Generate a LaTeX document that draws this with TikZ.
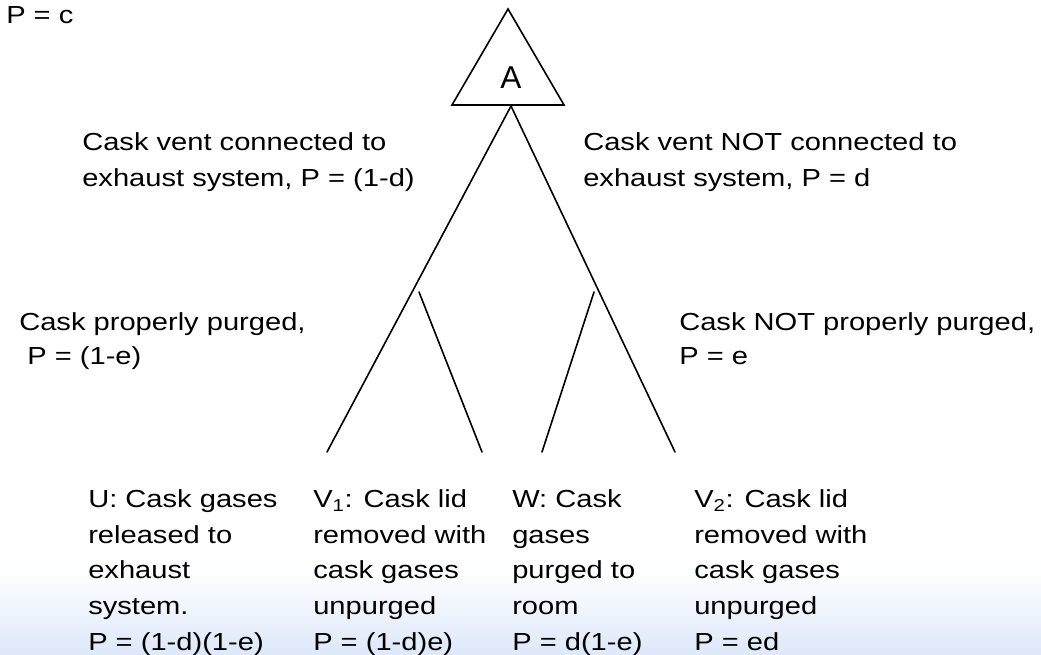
\documentclass[tikz,border=0pt]{standalone}
\usepackage{fontspec}
\setmainfont{Liberation Sans}[FakeStretch=1.18]
\newfontfamily\markfont{Liberation Sans}
\definecolor{fadeblue}{RGB}{222,232,250}
\begin{document}
\begin{tikzpicture}[x=0.75pt,y=-0.75pt,
  lbl/.style={anchor=north west, inner sep=0pt, align=left,
    font=\fontsize{18.5}{27}\selectfont},
  outcome/.style={lbl, font=\fontsize{18.5}{26.7}\selectfont},
  branch/.style={line width=1.2pt, line cap=round}]
\useasboundingbox (0,0) rectangle (1041,655);
% pale band along the bottom edge
\shade[top color=white, bottom color=fadeblue] (0,568) rectangle (1041,655);

% initiating event A
\coordinate (apex) at (508,9);
\coordinate (bl) at (452,105);
\coordinate (br) at (564,105);
\draw[line width=1.2pt, line join=miter] (apex) -- (bl) -- (br) -- cycle;
\node[font=\markfont\fontsize{23.7}{28}\selectfont, inner sep=0pt] (A) at (511,78) {A};
\node[lbl] (pc) at (6,6) {P = c};

% branch points and end points
\coordinate (root) at (511,106);
\coordinate (uend) at (327,452);
\coordinate (vtwoend) at (675,452);
\coordinate (vonetop) at (419,292);
\coordinate (voneend) at (482,452);
\coordinate (wtop) at (594,292);
\coordinate (wend) at (542,452);

\draw[branch] (root) -- (uend);
\draw[branch] (root) -- (vtwoend);
\draw[branch] (vonetop) -- (voneend);
\draw[branch] (wtop) -- (wend);

% branch labels
\node[lbl] (vent) at (82,132.5) {Cask vent connected to\\exhaust system, P = (1-d)};
\node[lbl] (novent) at (583,132.5) {Cask vent NOT connected to\\exhaust system, P = d};
\node[lbl, font=\fontsize{18.5}{25.5}\selectfont] (purged) at (19,312) {Cask properly purged,\\\ P = (1-e)};
\node[lbl, font=\fontsize{18.5}{25.5}\selectfont] (notpurged) at (679,312) {Cask NOT properly purged,\\P = e};

% outcomes
\node[outcome] (U) at (88,489.5) {U: Cask gases\\released to\\exhaust\\system.\\P = (1-d)(1-e)};
\node[outcome] (V1) at (313,489.5) {V\textsubscript{1}: Cask lid\\removed with\\cask gases\\unpurged\\P = (1-d)e)};
\node[outcome] (W) at (512,489.5) {W: Cask\\gases\\purged to\\room\\P = d(1-e)};
\node[outcome] (V2) at (694,489.5) {V\textsubscript{2}: Cask lid\\removed with\\cask gases\\unpurged\\P = ed};
\end{tikzpicture}
\end{document}
